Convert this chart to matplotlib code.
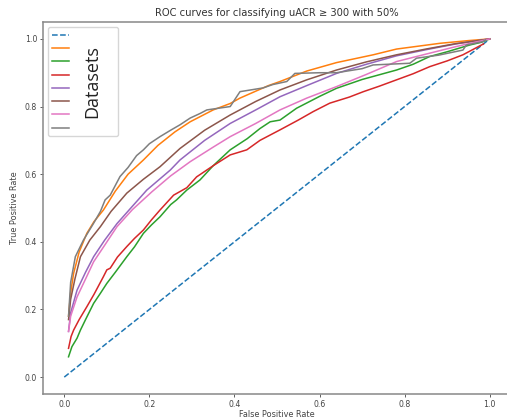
import matplotlib
matplotlib.use("Agg")
import matplotlib.pyplot as plt

# ROC curves (false positive rate, true positive rate)
chance_fpr = [0.0, 1.0]
chance_tpr = [0.0, 1.0]

orange_fpr = [0.01, 0.015, 0.022, 0.035, 0.053, 0.07, 0.092, 0.12, 0.15, 0.186, 0.22, 0.26,
              0.296, 0.35, 0.39, 0.413, 0.48, 0.507, 0.57, 0.64, 0.726, 0.781, 0.883, 0.95, 1.0]
orange_tpr = [0.18, 0.25, 0.307, 0.37, 0.425, 0.46, 0.494, 0.55, 0.60, 0.642, 0.685, 0.725,
              0.755, 0.79, 0.809, 0.825, 0.862, 0.874, 0.905, 0.93, 0.953, 0.97, 0.987, 0.995, 1.0]

green_fpr = [0.01, 0.018, 0.03, 0.038, 0.05, 0.069, 0.085, 0.1, 0.12, 0.147, 0.165, 0.186, 0.205,
             0.225, 0.25, 0.264, 0.288, 0.319, 0.35, 0.39, 0.43, 0.46, 0.484, 0.507, 0.546, 0.6,
             0.64, 0.7, 0.781, 0.82, 0.859, 0.9, 0.953, 0.98, 1.0]
green_tpr = [0.06, 0.09, 0.115, 0.139, 0.17, 0.218, 0.248, 0.277, 0.31, 0.356, 0.385, 0.425, 0.45,
             0.474, 0.51, 0.524, 0.553, 0.583, 0.625, 0.672, 0.705, 0.735, 0.755, 0.76, 0.795, 0.83,
             0.854, 0.88, 0.908, 0.925, 0.948, 0.962, 0.982, 0.99, 1.0]

red_fpr = [0.01, 0.016, 0.022, 0.035, 0.053, 0.07, 0.092, 0.1, 0.108, 0.125, 0.147, 0.165, 0.186,
           0.205, 0.225, 0.257, 0.288, 0.311, 0.35, 0.39, 0.429, 0.46, 0.507, 0.55, 0.585, 0.624,
           0.67, 0.703, 0.74, 0.781, 0.82, 0.859, 0.9, 0.937, 0.985]
red_tpr = [0.085, 0.12, 0.139, 0.17, 0.208, 0.245, 0.297, 0.317, 0.322, 0.355, 0.386, 0.41, 0.435,
           0.465, 0.494, 0.538, 0.56, 0.592, 0.625, 0.657, 0.672, 0.70, 0.731, 0.76, 0.785, 0.81,
           0.828, 0.844, 0.86, 0.879, 0.897, 0.918, 0.935, 0.953, 0.985]

purple_fpr = [0.01, 0.015, 0.03, 0.05, 0.069, 0.095, 0.124, 0.16, 0.194, 0.249, 0.272, 0.33, 0.39,
              0.45, 0.507, 0.57, 0.64, 0.71, 0.781, 0.85, 0.92, 1.0]
purple_tpr = [0.135, 0.19, 0.257, 0.31, 0.356, 0.405, 0.454, 0.505, 0.553, 0.612, 0.642, 0.70, 0.75,
              0.79, 0.829, 0.862, 0.898, 0.925, 0.95, 0.968, 0.985, 1.0]

brown_fpr = [0.01, 0.015, 0.025, 0.038, 0.06, 0.085, 0.11, 0.147, 0.186, 0.225, 0.272, 0.33, 0.39,
             0.45, 0.507, 0.57, 0.64, 0.71, 0.781, 0.85, 0.92, 1.0]
brown_tpr = [0.17, 0.23, 0.29, 0.356, 0.405, 0.445, 0.49, 0.544, 0.585, 0.622, 0.676, 0.73, 0.775,
             0.815, 0.849, 0.879, 0.908, 0.932, 0.953, 0.97, 0.986, 1.0]

pink_fpr = [0.01, 0.015, 0.03, 0.05, 0.069, 0.095, 0.124, 0.16, 0.206, 0.25, 0.296, 0.35, 0.39,
            0.45, 0.507, 0.57, 0.64, 0.71, 0.781, 0.85, 0.92, 1.0]
pink_tpr = [0.135, 0.18, 0.237, 0.29, 0.341, 0.39, 0.445, 0.495, 0.548, 0.595, 0.637, 0.68, 0.711,
            0.75, 0.79, 0.825, 0.859, 0.895, 0.933, 0.955, 0.977, 1.0]

gray_fpr = [0.01, 0.015, 0.026, 0.045, 0.069, 0.085, 0.096, 0.108, 0.131, 0.15, 0.17, 0.186, 0.2,
            0.225, 0.25, 0.272, 0.296, 0.32, 0.335, 0.39, 0.413, 0.467, 0.49, 0.523, 0.542, 0.6,
            0.64, 0.7, 0.726, 0.812, 0.828, 0.88, 0.937, 0.945, 0.984, 0.99]
gray_tpr = [0.18, 0.28, 0.356, 0.405, 0.455, 0.49, 0.524, 0.538, 0.593, 0.62, 0.655, 0.672, 0.69,
            0.711, 0.73, 0.746, 0.766, 0.78, 0.79, 0.80, 0.844, 0.855, 0.865, 0.874, 0.898, 0.9,
            0.9, 0.912, 0.923, 0.928, 0.943, 0.952, 0.967, 0.982, 0.992, 0.997]

series = [
    (chance_fpr, chance_tpr, "C0", "--"),
    (orange_fpr, orange_tpr, "C1", "-"),
    (green_fpr, green_tpr, "C2", "-"),
    (red_fpr, red_tpr, "C3", "-"),
    (purple_fpr, purple_tpr, "C4", "-"),
    (brown_fpr, brown_tpr, "C5", "-"),
    (pink_fpr, pink_tpr, "C6", "-"),
    (gray_fpr, gray_tpr, "C7", "-"),
]

fig = plt.figure(figsize=(5.07, 4.19), dpi=100)
ax = fig.add_axes([43 / 507, 1 - 394 / 419, (511 - 43) / 507, (394 - 22) / 419])

# labels are blanked in the original, only the handles show
for fpr, tpr, color, ls in series:
    ax.plot(fpr, tpr, color=color, linestyle=ls, linewidth=1.1, label=" ")

ax.set_xlim(-0.05, 1.05)
ax.set_ylim(-0.05, 1.05)
ax.set_xticks([0.0, 0.2, 0.4, 0.6, 0.8, 1.0])
ax.set_yticks([0.0, 0.2, 0.4, 0.6, 0.8, 1.0])
ax.tick_params(labelsize=5.6, length=2.2, width=0.6, colors="#444", pad=2)
for sp in ax.spines.values():
    sp.set_color("#888")
    sp.set_linewidth(1.1)

ax.set_title("ROC curves for classifying uACR \u2265 300 with 50%", fontsize=7.2, color="#333", pad=4)
ax.set_xlabel("False Positive Rate", fontsize=5.9, color="#444", labelpad=1)
ax.set_ylabel("True Positive Rate", fontsize=5.9, color="#444", labelpad=4)

ax.legend(loc="upper left", fontsize=6.2, handlelength=2.0, handletextpad=5.0,
          borderaxespad=0.6)

ax.text(0.105, 0.84, "Datasets", transform=ax.transAxes, rotation=90,
        ha="center", va="center", fontsize=13, family="Open Sans", color="#222", zorder=10)

fig.savefig("out.png", dpi=100)
